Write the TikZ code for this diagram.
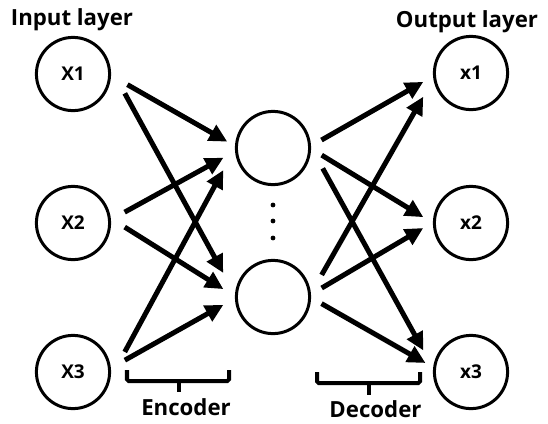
\documentclass[tikz,border=0pt]{standalone}
\usepackage{fontspec}
\setmainfont{Open Sans}
\usetikzlibrary{arrows.meta}

\begin{document}
\begin{tikzpicture}[x=0.025cm,y=-0.025cm,
  unit/.style={circle,draw,line width=0.075cm,minimum size=1.83cm,inner sep=0pt,font=\fontsize{13.5}{15}\selectfont\bfseries},
  arr/.style={line width=0.125cm,-{Triangle[length=0.45cm,width=0.43cm]}},
  title/.style={anchor=base,font=\fontsize{15.8}{18}\selectfont\bfseries},
  bracket/.style={line width=0.1cm,rounded corners=0.04cm}]
\useasboundingbox (0,0) rectangle (548,423);

% layers
\node[unit] (in1) at (73,74) {X1};
\node[unit] (in2) at (73,223) {X2};
\node[unit] (in3) at (73,372) {X3};
\node[unit] (h1) at (273,148) {};
\node[unit] (h2) at (273,297) {};
\node[unit] (out1) at (471,73) {x1};
\node[unit] (out2) at (471,223) {x2};
\node[unit] (out3) at (471,372) {x3};
\foreach \dy in {205,221,238}
  \fill (273,\dy) circle (0.06cm);

\node[title] (inlab) at (72,25) {Input layer};
\node[title] (outlab) at (467,27) {Output layer};

% encoder
\draw[arr,shorten <=0.47cm,shorten >=0.22cm] (in1.-2) -- (h1.177);
\draw[arr,shorten <=0.74cm,shorten >=0.61cm] (in1.10) -- (h2.176);
\draw[arr,shorten <=0.39cm,shorten >=0.33cm] (in2.5) -- (h1.185);
\draw[arr,shorten <=0.41cm,shorten >=0.34cm] (in2.7) -- (h2.179);
\draw[arr,shorten <=0.74cm,shorten >=0.61cm] (in3.-9) -- (h1.181);
\draw[arr,shorten <=0.40cm,shorten >=0.33cm] (in3.6) -- (h2.182);

% decoder
\draw[arr,shorten <=0.30cm,shorten >=0.28cm] (h1.3) -- (out1.185);
\draw[arr,shorten <=0.31cm,shorten >=0.28cm] (h1.-1) -- (out2.180);
\draw[arr,shorten <=0.60cm,shorten >=0.50cm] (h1.1) -- (out3.174);
\draw[arr,shorten <=0.54cm,shorten >=0.51cm] (h2.5) -- (out1.189);
\draw[arr,shorten <=0.31cm,shorten >=0.28cm] (h2.4) -- (out2.179);
\draw[arr,shorten <=0.30cm,shorten >=0.22cm] (h2.-1) -- (out3.173);

% brackets under the two halves
\draw[bracket] (127,370) -- (127,381) -- (229,381) -- (229,370);
\draw[bracket] (179,381) -- (179,392);
\node[title] (enc) at (186,415) {Encoder};
\draw[bracket] (317,372) -- (317,383) -- (420,383) -- (420,372);
\draw[bracket] (369,383) -- (369,395);
\node[title] (dec) at (375.5,417) {Decoder};
\end{tikzpicture}
\end{document}
